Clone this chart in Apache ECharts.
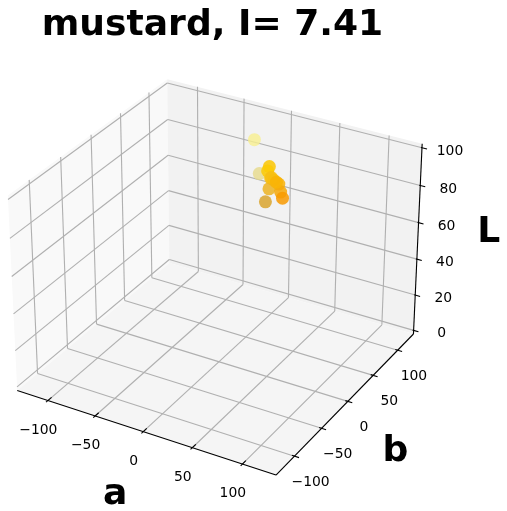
<!DOCTYPE html>
<html><head><meta charset="utf-8">
<style>html,body{margin:0;padding:0;background:#fff}#c{width:507px;height:511px}</style>
<script src="https://cdn.jsdelivr.net/npm/echarts@6/dist/echarts.min.js"></script>
</head><body><div id="c"></div>
<script>
const titleText = 'mustard, I= 7.41';
const abTicks = [-100, -50, 0, 50, 100];
const lTicks = [0, 20, 40, 60, 80, 100];
const valuesA = [-12, 10, 6, 7, 9, 12, 16, 7.5, 18, 20, 10, 11, 14];
const valuesB = [85, 55, 81, 76, 78, 79, 81, 78, 81, 81, 67, 76, 80];
const valuesL = [96, 88, 85, 84, 80, 79, 77, 74, 73, 70, 70, 81, 78];
const pointColors = ['#f7ef8e','#e6da8a','#fbc702','#fcca05','#f8c41a','#f9bc0a','#f8b208','#ecb322','#f6a808','#f89a00','#d9a52e','#f7be12','#f9b406'];

// camera of the original 3D view: elevation 30, azimuth -60, distance 10
const abLim = 133, lMin = -2.08, lMax = 102.08;
const boxAB = 1.1905, boxL = 0.8929, dist = 10;
const c30 = Math.sqrt(3)/2;
function project(a, b, l) {
  const qx = a/abLim*boxAB/2, qy = b/abLim*boxAB/2, qz = ((l-lMin)/(lMax-lMin)-0.5)*boxL;
  const xv = c30*qx + 0.5*qy;
  const yv = -0.25*qx + 0.433013*qy + c30*qz;
  const zw = 0.433013*qx - 0.75*qy + 0.5*qz;
  return [xv/(dist-zw), yv/(dist-zw)];
}
const S = 2490, OX = 219, OY = 267.6;
const R = abLim;

const panes = [
  {pts:[[-R,-R,lMin],[-R,R,lMin],[-R,R,lMax],[-R,-R,lMax]], color:'#f9f9f9'},
  {pts:[[-R,R,lMin],[R,R,lMin],[R,R,lMax],[-R,R,lMax]], color:'#f2f2f2'},
  {pts:[[-R,-R,lMin],[R,-R,lMin],[R,R,lMin],[-R,R,lMin]], color:'#f5f5f5'}
];
const seg = (p,q) => [...project(...p), ...project(...q)];
const gridSegs = [], inkSegs = [], labels = [];
abTicks.forEach(t => {
  gridSegs.push(seg([t,-R,lMin],[t,R,lMin]), seg([t,R,lMin],[t,R,lMax]));
  gridSegs.push(seg([R,t,lMin],[-R,t,lMin]), seg([-R,t,lMin],[-R,t,lMax]));
  inkSegs.push(seg([t,-R-3,lMin],[t,-R+6,lMin]));
  inkSegs.push(seg([R+4.5,t,lMin],[R-2.5,t,lMin]));
  const tx = t < 0 ? '\u2212'+(-t) : String(t);
  labels.push({p:project(t,-R,lMin), dx:-9.5, dy:29.5, text:tx});
  labels.push({p:project(R,t,lMin), dx:16.2, dy:25.8, text:tx});
});
lTicks.forEach(t => {
  gridSegs.push(seg([-R,-R,t],[-R,R,t]), seg([-R,R,t],[R,R,t]));
  inkSegs.push(seg([R-1,R,t],[R+5,R,t]));
  labels.push({p:project(R,R,t), dx:28, dy:3.5, text:String(t)});
});
inkSegs.push(seg([-R,-R,lMin],[R,-R,lMin]), seg([R,-R,lMin],[R,R,lMin]), seg([R,R,lMin],[R,R,lMax]));

const segSeries = (segs, color, width) => ({
  type:'custom', coordinateSystem:'cartesian2d', silent:true, clip:false, animation:false,
  data:segs,
  renderItem:(p,api)=>{
    const a=api.coord([api.value(0),api.value(1)]), b=api.coord([api.value(2),api.value(3)]);
    return {type:'line',shape:{x1:a[0],y1:a[1],x2:b[0],y2:b[1]},style:{stroke:color,lineWidth:width,fill:null}};
  }
});
const paneSeries = panes.map(pn => ({
  type:'custom', coordinateSystem:'cartesian2d', silent:true, clip:false, animation:false,
  data:[pn.pts.flatMap(q=>project(...q))],
  renderItem:(p,api)=>{
    const points=[0,2,4,6].map(i=>api.coord([api.value(i),api.value(i+1)]));
    return {type:'polygon',shape:{points},style:{fill:pn.color,stroke:null}};
  }
}));
const textSeries = (items) => ({
  type:'custom', coordinateSystem:'cartesian2d', silent:true, clip:false, animation:false,
  data:items.map(o=>o.p),
  renderItem:(p,api)=>{
    const o=items[p.dataIndex], c=api.coord(o.p);
    return {type:'text',style:{text:o.text,x:c[0]+o.dx,y:c[1]+o.dy,align:'center',verticalAlign:'middle',
      fontFamily:'DejaVu Sans',fontSize:o.size||13.9,fontWeight:o.bold?'bold':'normal',fill:'#000'}};
  }
});
const axisNames = [
  {p:project(0,-R,lMin), dx:-28, dy:63, text:'a', size:36.1, bold:true},
  {p:project(R,0,lMin), dx:47.5, dy:50, text:'b', size:36.1, bold:true},
  {p:project(R,R,50), dx:71, dy:-8, text:'L', size:36.1, bold:true}
];

const chart = echarts.init(document.getElementById('c'), null, {renderer:'canvas'});
chart.setOption({
  animation:false,
  title:{text:titleText,left:207.5,top:3,textAlign:'center',textStyle:{fontFamily:'DejaVu Sans',fontWeight:'bold',fontSize:36.1,color:'#000'}},
  grid:{left:0,right:0,top:0,bottom:0},
  xAxis:{type:'value',show:false,min:(0-OX)/S,max:(507-OX)/S},
  yAxis:{type:'value',show:false,min:(OY-511)/S,max:OY/S},
  series:[
    ...paneSeries,
    segSeries(gridSegs,'#b0b0b0',1.11),
    segSeries(inkSegs,'#000',1.11),
    textSeries(labels),
    textSeries(axisNames),
    {type:'scatter',silent:true,animation:false,symbolSize:13,
     data:valuesA.map((a,i)=>({value:project(a,valuesB[i],valuesL[i]),itemStyle:{color:pointColors[i],opacity:i<2?0.8:0.85}}))}
  ]
});
</script></body></html>
